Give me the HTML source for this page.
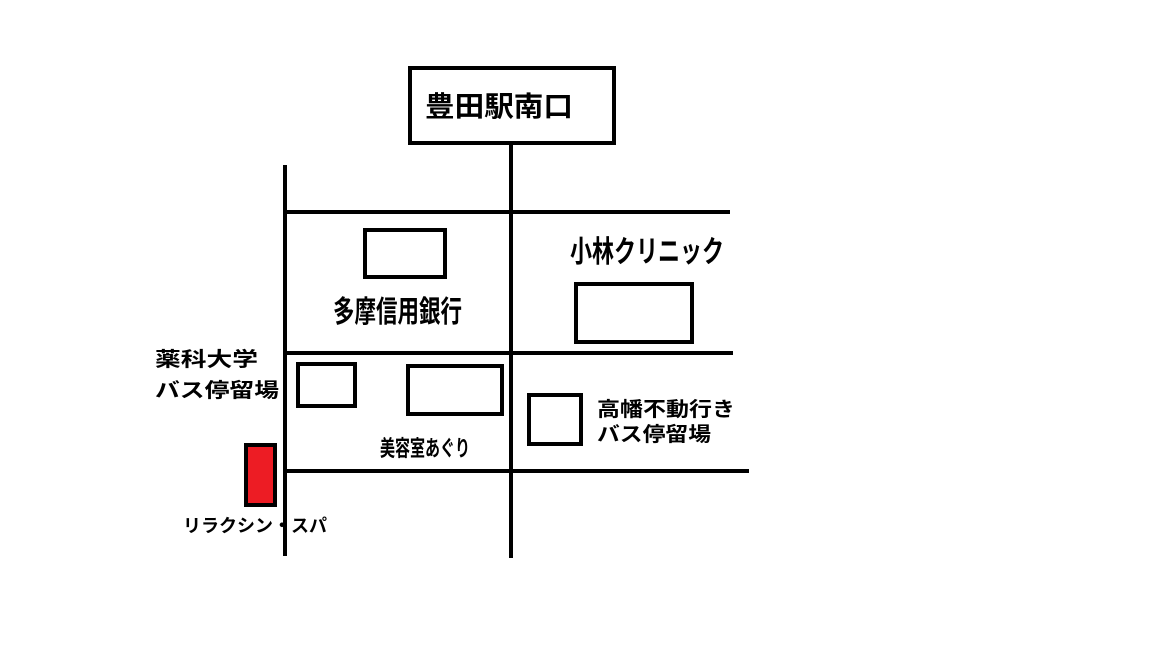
<!DOCTYPE html>
<html><head><meta charset="utf-8"><style>
html,body{margin:0;padding:0;background:#fff;}
svg{display:block;}
text{font-family:"Liberation Sans","Noto Sans CJK JP",sans-serif;font-weight:bold;fill:#000;}
</style></head><body>
<svg width="1152" height="648" viewBox="0 0 1152 648" xmlns="http://www.w3.org/2000/svg">
<rect width="1152" height="648" fill="#fff"/>
<g stroke="#000" stroke-width="4" fill="none">
<rect x="410" y="68" width="204" height="75"/>
<line x1="511" y1="143" x2="511" y2="558"/>
<line x1="285" y1="165" x2="285" y2="556"/>
<line x1="285" y1="212" x2="730" y2="212"/>
<line x1="285" y1="353" x2="733" y2="353"/>
<line x1="285" y1="471" x2="749" y2="471"/>
<rect x="365" y="230" width="80" height="47"/>
<rect x="576" y="284" width="116" height="58"/>
<rect x="298" y="364" width="57" height="42"/>
<rect x="408" y="366" width="94" height="48"/>
<rect x="529" y="395" width="52" height="49"/>
<rect x="246" y="445" width="29" height="60" fill="#ed1c24"/>
</g>
<text x="425" y="116" font-size="28" textLength="148" lengthAdjust="spacingAndGlyphs">豊田駅南口</text>
<text x="333" y="322" font-size="30" textLength="129" lengthAdjust="spacingAndGlyphs">多摩信用銀行</text>
<text x="570" y="262" font-size="30" textLength="154" lengthAdjust="spacingAndGlyphs">小林クリニック</text>
<text x="380" y="456" font-size="22" textLength="90" lengthAdjust="spacingAndGlyphs">美容室あぐり</text>
<text x="597" y="416" font-size="20" textLength="138" lengthAdjust="spacingAndGlyphs">高幡不動行き</text>
<text x="597" y="441" font-size="20" textLength="114" lengthAdjust="spacingAndGlyphs">バス停留場</text>
<text x="155" y="366" font-size="20" textLength="103" lengthAdjust="spacingAndGlyphs">薬科大学</text>
<text x="155" y="397" font-size="20" textLength="124" lengthAdjust="spacingAndGlyphs">バス停留場</text>
<text x="183" y="532" font-size="18" textLength="144" lengthAdjust="spacingAndGlyphs">リラクシン・スパ</text>
</svg>
</body></html>
